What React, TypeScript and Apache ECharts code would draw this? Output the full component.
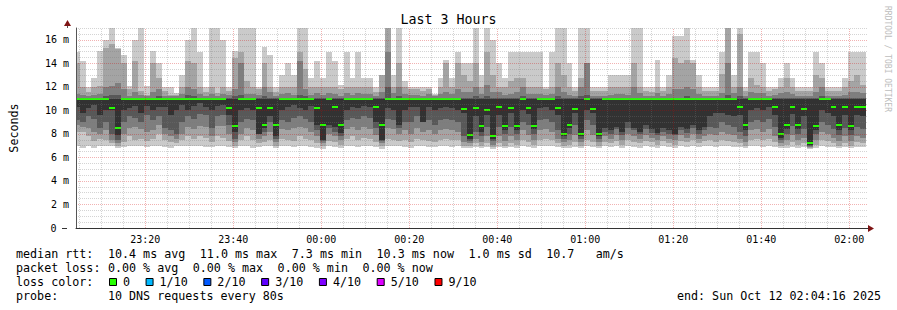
import React, { useEffect, useRef } from 'react';
import * as echarts from 'echarts';

// ---- time axis (minutes relative to midnight) ----
const X_MIN = -55.7333; // 23:04:16
const X_MAX = 124.2667; // 02:04:16
const FIRST_STEP_START = -56.2333;
const STEP_MIN = 80 / 60; // 80 s steps
const Y_MAX = 17.02;

const xLabelMinutes = [-40, -20, 0, 20, 40, 60, 80, 100, 120];
const yLabelValues = [0, 2, 4, 6, 8, 10, 12, 14, 16];

// median RTT per step (ms)
const medians = [
  11, 11, 11, 11, 11, 11, 10.2, 8.5, 11, 11, 11, 11, 11, 11, 11, 11, 11, 11, 11, 11,
  11, 11, 11, 11, 11, 11, 10.2, 8.7, 11, 11, 11, 10.2, 8.8, 10.2, 8.8, 11, 11, 11, 11, 11,
  11, 10.2, 8.8, 11, 10.3, 8.8, 11, 11, 11, 11, 11, 10.3, 8.8, 11, 11, 11, 11, 11, 11, 11,
  11, 11, 11, 11, 11, 11, 10.1, 7.9, 10.2, 8.7, 10.0, 7.85, 10.3, 8.7, 10.2, 8.7, 11, 10.2, 8.7, 11,
  11, 11, 10.2, 8.0, 8.8, 10.1, 8.0, 11, 10.1, 8.0, 11, 11, 11, 11, 11, 11, 11, 11, 11, 11,
  11, 11, 11, 11, 11, 11, 11, 11, 11, 11, 11, 11, 11, 10.3, 8.8, 11, 11, 11, 11, 10.3,
  8.0, 8.8, 10.3, 8.8, 10.1, 7.2, 8.7, 11, 11, 10.3, 8.8, 10.3, 8.7, 10.3, 10.3,
];

// the 10 sorted ping times of every step (ms)
const pings = [
  [7.0, 8.2, 8.8, 9.2, 10.3, 11.0, 11.1, 11.4, 14.0, 15.0],
  [6.8, 8.2, 8.6, 9.0, 9.8, 11.0, 11.1, 11.3, 12.0, 14.2],
  [7.0, 7.8, 8.5, 9.5, 10.2, 11.0, 11.1, 11.2, 11.6, 12.0],
  [6.8, 7.4, 8.2, 9.3, 10.5, 11.0, 11.1, 11.3, 12.0, 12.8],
  [7.0, 7.6, 8.0, 8.5, 9.6, 11.0, 11.1, 11.4, 12.1, 15.1],
  [7.0, 7.5, 8.3, 9.0, 10.0, 11.0, 11.2, 12.0, 15.3, 16.0],
  [7.0, 7.2, 7.5, 8.0, 10.0, 11.0, 11.3, 12.1, 15.7, 17.0],
  [6.8, 7.0, 7.2, 7.5, 7.9, 11.0, 11.3, 12.3, 15.2, 15.3],
  [6.9, 7.3, 8.0, 9.0, 10.0, 11.0, 11.1, 11.8, 14.0, 14.7],
  [7.0, 7.8, 8.5, 9.5, 10.2, 11.0, 11.1, 11.2, 11.8, 12.1],
  [7.0, 7.5, 8.6, 9.4, 10.4, 11.0, 11.1, 11.6, 14.2, 16.0],
  [7.0, 7.6, 8.4, 9.0, 9.8, 11.0, 11.1, 11.3, 11.7, 17.0],
  [6.9, 7.4, 8.2, 9.6, 10.4, 11.0, 11.1, 11.2, 11.3, 12.1],
  [7.0, 7.6, 8.3, 9.2, 10.0, 11.0, 11.1, 11.6, 14.0, 15.1],
  [7.0, 8.0, 8.8, 9.5, 10.3, 11.0, 11.2, 11.8, 12.8, 14.0],
  [6.9, 7.5, 8.0, 8.5, 10.3, 11.0, 11.1, 11.2, 11.7, 12.0],
  [6.8, 7.3, 7.8, 8.3, 9.6, 11.0, 11.1, 11.2, 11.3, 12.0],
  [7.0, 7.2, 7.6, 8.0, 10.0, 11.0, 11.1, 11.2, 11.3, 11.5],
  [7.0, 7.5, 8.0, 9.0, 10.5, 11.0, 11.1, 11.4, 12.0, 13.0],
  [7.0, 7.8, 8.6, 9.5, 10.0, 11.0, 11.3, 12.0, 14.2, 16.0],
  [7.0, 7.6, 8.4, 9.3, 10.4, 11.0, 11.2, 11.8, 14.0, 17.0],
  [7.0, 7.8, 8.7, 9.7, 10.6, 11.0, 11.1, 11.4, 12.0, 15.0],
  [6.9, 7.7, 8.6, 9.6, 10.3, 11.0, 11.1, 11.2, 11.6, 12.0],
  [6.9, 7.3, 7.8, 8.5, 10.0, 11.0, 11.1, 11.4, 12.0, 17.0],
  [7.0, 7.8, 8.7, 9.5, 10.4, 11.0, 11.1, 11.2, 11.5, 17.0],
  [7.0, 7.7, 8.7, 9.6, 10.5, 11.0, 11.1, 11.4, 12.0, 16.0],
  [6.9, 7.4, 8.0, 8.8, 9.6, 11.0, 11.1, 11.3, 11.7, 12.0],
  [6.8, 7.0, 7.3, 7.6, 8.2, 11.0, 11.2, 11.8, 14.5, 15.1],
  [7.0, 7.5, 8.0, 9.0, 10.0, 11.0, 11.3, 14.0, 15.0, 17.0],
  [7.0, 7.8, 8.5, 9.3, 10.2, 11.0, 11.1, 11.4, 12.5, 17.0],
  [6.8, 7.5, 8.3, 9.2, 10.0, 11.0, 11.1, 11.4, 12.0, 17.0],
  [6.9, 7.2, 7.6, 8.0, 8.0, 11.0, 11.1, 11.3, 11.8, 12.0],
  [7.0, 7.3, 7.8, 8.2, 8.5, 11.0, 11.2, 12.0, 14.0, 15.4],
  [7.0, 7.5, 8.2, 9.0, 9.5, 11.0, 11.1, 11.6, 12.0, 14.7],
  [6.8, 7.0, 7.3, 7.6, 7.8, 11.0, 11.1, 11.2, 11.6, 12.0],
  [7.0, 7.6, 8.4, 9.2, 10.0, 11.0, 11.1, 11.4, 12.0, 13.0],
  [7.0, 7.5, 8.3, 9.0, 10.3, 11.0, 11.1, 11.5, 12.0, 14.0],
  [6.9, 7.4, 8.5, 9.4, 10.5, 11.0, 11.1, 11.3, 12.0, 13.0],
  [7.0, 7.8, 8.6, 9.5, 10.2, 11.0, 11.3, 14.2, 15.0, 17.0],
  [7.0, 7.6, 8.5, 9.3, 10.0, 11.0, 11.2, 11.8, 13.5, 17.0],
  [6.9, 7.5, 8.2, 9.0, 10.4, 11.0, 11.1, 11.3, 12.0, 12.8],
  [6.8, 7.2, 7.8, 8.3, 8.8, 11.0, 11.1, 11.5, 12.0, 14.2],
  [6.7, 7.0, 7.2, 7.4, 7.5, 11.0, 11.1, 11.3, 12.0, 12.8],
  [7.0, 7.4, 8.0, 8.5, 8.8, 11.0, 11.1, 11.5, 12.0, 15.0],
  [6.9, 7.3, 7.8, 8.2, 8.6, 11.0, 11.1, 11.4, 12.0, 14.2],
  [6.8, 7.1, 7.5, 7.8, 8.1, 11.0, 11.1, 11.2, 11.8, 12.2],
  [7.0, 7.6, 8.4, 9.2, 10.0, 11.0, 11.1, 11.5, 12.0, 15.0],
  [7.0, 7.8, 8.6, 9.4, 10.3, 11.0, 11.1, 11.3, 12.0, 12.8],
  [6.9, 7.5, 8.3, 9.3, 10.2, 11.0, 11.1, 11.5, 12.0, 15.0],
  [7.0, 7.7, 8.6, 9.5, 10.4, 11.0, 11.1, 11.4, 12.0, 12.8],
  [7.0, 7.6, 8.4, 9.4, 10.3, 11.0, 11.1, 11.4, 12.0, 12.8],
  [6.9, 7.3, 7.9, 8.5, 9.0, 11.0, 11.1, 11.2, 11.6, 12.0],
  [6.7, 7.0, 7.2, 7.4, 7.5, 11.0, 11.1, 11.6, 13.0, 13.0],
  [7.0, 7.6, 8.5, 9.3, 10.2, 11.0, 12.0, 15.0, 17.0, 17.0],
  [7.0, 7.5, 8.4, 9.2, 10.0, 11.0, 11.1, 11.5, 12.0, 13.0],
  [7.0, 7.4, 8.0, 8.5, 8.8, 11.0, 11.2, 12.0, 14.0, 17.0],
  [6.9, 7.5, 8.3, 9.0, 10.0, 11.0, 11.1, 11.4, 12.0, 12.5],
  [6.8, 7.3, 8.0, 9.0, 10.3, 11.0, 11.1, 11.3, 11.8, 12.0],
  [7.0, 7.6, 8.5, 9.5, 10.3, 11.0, 11.1, 11.3, 11.8, 12.0],
  [7.0, 7.5, 8.2, 9.0, 9.0, 11.0, 11.1, 11.2, 11.7, 12.0],
  [6.9, 7.4, 8.3, 9.2, 10.3, 11.0, 11.1, 11.4, 11.8, 12.0],
  [6.9, 7.3, 8.0, 8.8, 10.0, 11.0, 11.1, 11.2, 11.3, 11.4],
  [7.0, 7.5, 8.3, 9.2, 10.2, 11.0, 11.1, 11.4, 12.0, 12.8],
  [7.0, 7.6, 8.4, 9.3, 10.3, 11.0, 11.1, 11.6, 14.0, 14.3],
  [6.9, 7.5, 8.3, 9.2, 10.2, 11.0, 11.1, 11.4, 12.0, 12.8],
  [7.0, 7.5, 8.2, 9.0, 10.0, 11.0, 11.1, 11.8, 14.0, 15.0],
  [6.8, 7.0, 7.3, 7.8, 9.8, 11.0, 11.1, 11.6, 13.0, 14.0],
  [6.8, 7.0, 7.2, 7.4, 7.6, 11.0, 11.1, 11.6, 12.5, 14.0],
  [6.9, 7.2, 7.6, 8.2, 9.5, 11.0, 11.2, 12.0, 14.0, 17.0],
  [6.8, 7.0, 7.3, 7.8, 8.2, 11.0, 11.1, 11.4, 12.0, 13.0],
  [6.9, 7.2, 7.8, 8.6, 9.6, 11.0, 11.2, 12.2, 15.0, 17.0],
  [6.7, 6.9, 7.1, 7.4, 7.6, 11.0, 11.1, 11.6, 13.0, 16.0],
  [6.9, 7.2, 7.8, 8.6, 9.6, 11.0, 11.1, 11.6, 12.0, 14.0],
  [6.8, 7.0, 7.4, 8.0, 8.3, 11.0, 11.1, 11.3, 12.0, 12.8],
  [6.9, 7.2, 7.8, 8.6, 9.8, 11.0, 11.1, 11.4, 12.5, 15.0],
  [6.8, 7.1, 7.5, 8.0, 8.3, 11.0, 11.1, 11.6, 12.8, 15.0],
  [7.0, 7.5, 8.3, 9.0, 10.0, 11.0, 11.2, 12.0, 12.8, 15.0],
  [6.9, 7.3, 7.9, 8.8, 9.7, 11.0, 11.1, 11.4, 12.0, 15.0],
  [6.8, 7.1, 7.5, 8.0, 8.4, 11.0, 11.1, 11.4, 12.0, 15.0],
  [7.0, 7.5, 8.3, 9.2, 10.2, 11.0, 11.1, 11.4, 12.0, 15.0],
  [7.0, 7.6, 8.4, 9.3, 10.3, 11.0, 11.1, 11.3, 11.8, 12.0],
  [7.0, 7.5, 8.2, 9.0, 10.0, 11.0, 11.1, 11.4, 12.0, 15.0],
  [6.9, 7.2, 7.6, 8.3, 9.6, 11.0, 11.2, 12.0, 14.0, 17.0],
  [6.8, 7.0, 7.3, 7.6, 7.8, 11.0, 11.1, 11.6, 13.0, 17.0],
  [6.8, 7.1, 7.5, 8.0, 8.5, 11.0, 11.1, 11.3, 12.0, 14.0],
  [6.9, 7.3, 7.9, 8.8, 9.8, 11.0, 11.1, 11.2, 11.7, 12.0],
  [6.8, 7.0, 7.3, 7.6, 7.8, 11.0, 11.2, 12.0, 12.8, 17.0],
  [7.0, 7.5, 8.3, 9.2, 10.0, 11.0, 11.3, 14.0, 14.0, 17.0],
  [6.9, 7.3, 7.9, 8.8, 9.8, 11.0, 11.1, 11.2, 11.7, 12.0],
  [6.8, 7.0, 7.3, 7.6, 7.8, 11.0, 11.1, 11.2, 11.7, 12.0],
  [7.0, 7.3, 7.8, 8.2, 8.5, 11.0, 11.1, 11.2, 11.7, 12.0],
  [6.9, 7.2, 7.6, 8.0, 8.3, 11.0, 11.1, 11.3, 12.0, 13.0],
  [7.0, 7.4, 7.9, 8.4, 8.6, 11.0, 11.1, 11.4, 12.0, 13.0],
  [6.8, 7.1, 7.5, 7.9, 8.2, 11.0, 11.1, 11.4, 12.0, 13.0],
  [7.0, 7.5, 8.0, 8.5, 9.0, 11.0, 11.1, 11.3, 12.0, 13.0],
  [6.9, 7.3, 7.8, 8.3, 8.5, 11.0, 11.1, 12.0, 14.0, 17.0],
  [6.8, 7.2, 7.6, 8.0, 8.2, 11.0, 11.1, 11.5, 12.0, 17.0],
  [7.0, 7.4, 7.9, 8.4, 8.8, 11.0, 11.1, 11.2, 11.7, 12.0],
  [6.9, 7.3, 7.7, 8.1, 8.4, 11.0, 11.1, 11.2, 11.6, 12.0],
  [6.8, 7.1, 7.5, 7.9, 8.1, 11.0, 11.1, 11.5, 12.0, 14.3],
  [7.0, 7.4, 7.8, 8.2, 8.5, 11.0, 11.1, 11.2, 11.7, 12.0],
  [6.9, 7.2, 7.6, 8.0, 8.3, 11.0, 11.1, 11.4, 12.0, 13.0],
  [6.8, 7.1, 7.5, 7.9, 8.0, 11.0, 11.1, 11.8, 14.5, 16.3],
  [7.0, 7.4, 7.9, 8.3, 8.6, 11.0, 11.1, 11.8, 14.0, 16.3],
  [6.9, 7.3, 7.7, 8.1, 8.4, 11.0, 11.2, 12.0, 14.3, 17.0],
  [7.0, 7.5, 8.0, 8.5, 8.8, 11.0, 11.1, 11.8, 14.0, 14.3],
  [6.9, 7.2, 7.6, 8.0, 8.3, 11.0, 11.1, 11.4, 12.0, 13.0],
  [7.0, 7.4, 7.8, 8.3, 8.6, 11.0, 11.1, 11.2, 11.7, 12.0],
  [7.0, 7.5, 8.0, 8.6, 9.5, 11.0, 11.1, 11.2, 11.7, 12.0],
  [6.9, 7.3, 7.9, 8.5, 9.8, 11.0, 11.1, 11.2, 11.7, 12.0],
  [7.0, 7.5, 8.2, 9.0, 9.8, 11.0, 11.1, 11.5, 13.1, 15.0],
  [7.0, 7.4, 8.0, 8.8, 9.6, 11.0, 11.3, 14.0, 17.0, 17.0],
  [6.9, 7.3, 7.9, 8.6, 9.5, 11.0, 11.1, 11.5, 12.0, 13.0],
  [6.9, 7.2, 7.6, 8.2, 9.6, 11.0, 11.2, 12.0, 16.5, 17.0],
  [6.8, 7.0, 7.3, 7.8, 8.3, 11.0, 11.1, 11.2, 11.7, 12.0],
  [7.0, 7.5, 8.3, 9.0, 10.0, 11.0, 11.1, 11.6, 12.8, 15.0],
  [7.0, 7.6, 8.4, 9.2, 10.2, 11.0, 11.1, 11.5, 12.2, 15.0],
  [6.9, 7.5, 8.2, 9.0, 10.0, 11.0, 11.1, 11.5, 12.0, 14.0],
  [7.0, 7.6, 8.4, 9.3, 10.3, 11.0, 11.1, 11.2, 11.7, 12.0],
  [6.9, 7.3, 7.8, 8.6, 9.6, 11.0, 11.1, 11.3, 11.8, 12.0],
  [6.8, 7.0, 7.2, 7.5, 7.7, 11.0, 11.1, 11.5, 12.0, 12.8],
  [6.8, 7.1, 7.5, 8.0, 8.4, 11.0, 11.1, 11.6, 12.8, 14.0],
  [6.9, 7.3, 7.9, 8.7, 9.7, 11.0, 11.1, 11.4, 12.0, 12.8],
  [6.8, 7.1, 7.5, 8.0, 8.4, 11.0, 11.1, 11.2, 11.7, 12.0],
  [6.9, 7.2, 7.7, 8.4, 9.5, 11.0, 11.1, 11.2, 11.7, 12.0],
  [6.7, 6.8, 6.9, 7.0, 7.1, 11.0, 11.1, 11.2, 11.7, 12.0],
  [6.8, 7.1, 7.5, 8.0, 8.3, 11.0, 11.1, 11.6, 13.0, 15.0],
  [7.0, 7.5, 8.2, 9.0, 10.0, 11.0, 11.2, 12.0, 12.8, 14.0],
  [6.9, 7.4, 8.0, 8.8, 9.8, 11.0, 11.1, 11.2, 11.7, 12.0],
  [6.9, 7.2, 7.7, 8.4, 9.5, 11.0, 11.1, 11.2, 11.7, 12.0],
  [6.8, 7.0, 7.4, 7.9, 8.3, 11.0, 11.1, 11.2, 11.7, 12.0],
  [6.9, 7.2, 7.8, 8.5, 9.6, 11.0, 11.1, 11.3, 12.0, 12.8],
  [6.8, 7.0, 7.4, 7.9, 8.3, 11.0, 11.1, 11.6, 12.5, 15.0],
  [6.9, 7.3, 7.8, 8.6, 9.6, 11.0, 11.1, 11.6, 13.0, 15.0],
  [6.9, 7.2, 7.7, 8.4, 9.5, 11.0, 11.1, 11.5, 12.2, 15.0],
];

// legend texts: [character column, text]
const statRows: [number, string][][] = [
  [[0, 'median rtt:'], [13, '10.4 ms avg'], [26, '11.0 ms max'], [39, '7.3 ms min'], [51, '10.3 ms now'], [64, '1.0 ms sd'], [75, '10.7'], [82, 'am/s']],
  [[0, 'packet loss:'], [13, '0.00 % avg'], [25, '0.00 % max'], [37, '0.00 % min'], [49, '0.00 % now']],
  [[0, 'loss color:']],
  [[0, 'probe:'], [13, '10 DNS requests every 80s']],
];
const lossLabels = ['0', '1/10', '2/10', '3/10', '4/10', '5/10', '9/10'];
const lossColors = ['#26ff00', '#00b8ff', '#0059ff', '#5e00ff', '#7e00ff', '#dd00ff', '#ff0000'];
const endText = 'end: Sun Oct 12 02:04:16 2025';

const smokeGreys = ['#cacaca', '#a4a4a4', '#7e7e7e', '#585858', '#323232'];
const MONO = '"DejaVu Sans Mono", monospace';

function fmtClock(m: number): string {
  let v = Math.round(m);
  if (v < 0) v += 1440;
  const h = Math.floor(v / 60);
  const mm = v % 60;
  return String(h).padStart(2, '0') + ':' + String(mm).padStart(2, '0');
}

export default function App() {
  const ref = useRef<HTMLDivElement>(null);
  useEffect(() => {
    if (!ref.current) return;
    const chart = echarts.init(ref.current, undefined, { renderer: 'svg' });

    const rows = pings.map((p, i) => {
      const t0 = FIRST_STEP_START + i * STEP_MIN;
      return [t0, t0 + STEP_MIN, ...p, medians[i]];
    });

    const renderItem = (params: any, api: any) => {
      const cs = params.coordSys;
      const clipBox = { x: cs.x, y: cs.y, width: cs.width, height: cs.height };
      const t0 = api.value(0);
      const t1 = api.value(1);
      const xl = Math.round(api.coord([t0, 0])[0]);
      const xr = Math.round(api.coord([t1, 0])[0]);
      const py = (v: number) => Math.round(api.coord([t0, v])[1]);
      const children: any[] = [];
      for (let k = 0; k < 5; k++) {
        const lo = api.value(2 + k);
        const hi = api.value(11 - k);
        const r = echarts.graphic.clipRectByRect(
          { x: xl, y: py(hi), width: xr - xl, height: py(lo) - py(hi) },
          clipBox
        );
        if (r) children.push({ type: 'rect', shape: r, style: { fill: smokeGreys[k] } });
      }
      const ym = py(api.value(12));
      const g = echarts.graphic.clipRectByRect(
        { x: xl, y: ym - 1, width: xr - xl, height: 2 },
        clipBox
      );
      if (g) children.push({ type: 'rect', shape: g, style: { fill: '#26ff00' } });
      return { type: 'group', children };
    };

    const GRID_MINOR = 'rgba(120,120,120,0.32)';
    const GRID_MAJOR = 'rgba(210,0,0,0.3)';
    const gridLines: any[] = [];
    for (let m = -55; m <= 120; m += 5) {
      const major = m % 20 === 0;
      gridLines.push({
        xAxis: m,
        lineStyle: { color: major ? GRID_MAJOR : GRID_MINOR, type: [1, 1], width: 1 },
      });
    }
    for (let v = 0.5; v <= 17.001; v += 0.5) {
      const major = Math.abs(v / 2 - Math.round(v / 2)) < 1e-6;
      gridLines.push({
        yAxis: v,
        lineStyle: { color: major ? GRID_MAJOR : GRID_MINOR, type: [1, 1], width: 1 },
      });
    }

    const graphics: any[] = [];
    const CW = 7.07;
    statRows.forEach((row, ri) => {
      row.forEach(([col, txt]) => {
        graphics.push({
          type: 'text',
          x: 16 + col * CW,
          y: 254 + ri * 14,
          style: { text: txt, fill: '#000', fontFamily: MONO, fontSize: 11.7, verticalAlign: 'middle', align: 'left' },
        });
      });
    });
    let bx = 109;
    lossLabels.forEach((lab, i) => {
      graphics.push({
        type: 'rect',
        shape: { x: bx + 0.5, y: 278.5, width: 7, height: 7 },
        style: { fill: lossColors[i], stroke: '#000', lineWidth: 1 },
      });
      graphics.push({
        type: 'text',
        x: bx + 14,
        y: 282,
        style: { text: lab, fill: '#000', fontFamily: MONO, fontSize: 11.7, verticalAlign: 'middle', align: 'left' },
      });
      bx = bx + 14 + lab.length * CW + 15.5;
    });
    graphics.push({
      type: 'text',
      x: 881,
      y: 296,
      style: { text: endText, fill: '#000', fontFamily: MONO, fontSize: 11.7, verticalAlign: 'middle', align: 'right' },
    });
    graphics.push({
      type: 'text',
      x: 887,
      y: 59,
      rotation: -Math.PI / 2,
      style: { text: 'RRDTOOL / TOBI OETIKER', fill: '#bdbdbd', fontFamily: MONO, fontSize: 8, verticalAlign: 'middle', align: 'center' },
    });
    // axis line extensions and arrow heads
    graphics.push({
      type: 'line',
      shape: { x1: 67.5, y1: 28, x2: 67.5, y2: 24 },
      style: { stroke: '#555', lineWidth: 1 },
    });
    graphics.push({
      type: 'line',
      shape: { x1: 62, y1: 228.5, x2: 67, y2: 228.5 },
      style: { stroke: '#333', lineWidth: 1 },
    });
    graphics.push({
      type: 'polygon',
      shape: { points: [[64, 26], [71, 26], [67.5, 20]] },
      style: { fill: '#7f1414' },
    });
    graphics.push({
      type: 'polygon',
      shape: { points: [[868, 225], [868, 232], [874, 228.5]] },
      style: { fill: '#7f1414' },
    });

    const option: any = {
      animation: false,
      backgroundColor: '#ffffff',
      title: {
        text: 'Last 3 Hours',
        left: 'center',
        top: 13,
        padding: 0,
        textStyle: { fontFamily: MONO, fontSize: 13.3, fontWeight: 'normal', color: '#000' },
      },
      grid: { left: 67, right: 29, top: 28, bottom: 82, containLabel: false },
      xAxis: {
        type: 'value',
        min: X_MIN,
        max: X_MAX,
        z: 12,
        axisLine: { show: true, onZero: false, lineStyle: { color: '#333', width: 1 } },
        axisTick: { show: false },
        splitLine: { show: false },
        axisLabel: {
          customValues: xLabelMinutes,
          formatter: (v: number) => fmtClock(v),
          margin: 6,
          fontFamily: MONO,
          fontSize: 10,
          color: '#000',
        },
      },
      yAxis: {
        type: 'value',
        min: 0,
        max: Y_MAX,
        interval: 2,
        z: 12,
        name: 'Seconds',
        nameLocation: 'middle',
        nameGap: 56,
        nameTextStyle: { fontFamily: MONO, fontSize: 11.7, color: '#000' },
        axisLine: { show: true, onZero: false, lineStyle: { color: '#555', width: 1 } },
        axisTick: { show: false },
        splitLine: { show: false },
        axisLabel: {
          customValues: yLabelValues,
          margin: 7,
          fontFamily: MONO,
          fontSize: 10,
          color: '#000',
          formatter: (v: number) => (v === 0 ? '{z|0}' : `${v} m`),
          rich: { z: { fontFamily: MONO, fontSize: 10, color: '#000', padding: [0, 12.5, 0, 0] } },
        },
      },
      series: [
        {
          type: 'custom',
          renderItem,
          data: rows,
          encode: { x: [0, 1], y: [2, 11] },
          silent: true,
          z: 2,
        },
        {
          type: 'line',
          data: [],
          z: 10,
          silent: true,
          markLine: {
            silent: true,
            symbol: ['none', 'none'],
            label: { show: false },
            animation: false,
            data: gridLines,
          },
        },
      ],
      graphic: graphics,
    };
    chart.setOption(option);
    return () => chart.dispose();
  }, []);

  return (
    <div
      ref={ref}
      style={{ position: 'fixed', left: 0, top: 0, width: 897, height: 310, background: '#fff' }}
    />
  );
}
